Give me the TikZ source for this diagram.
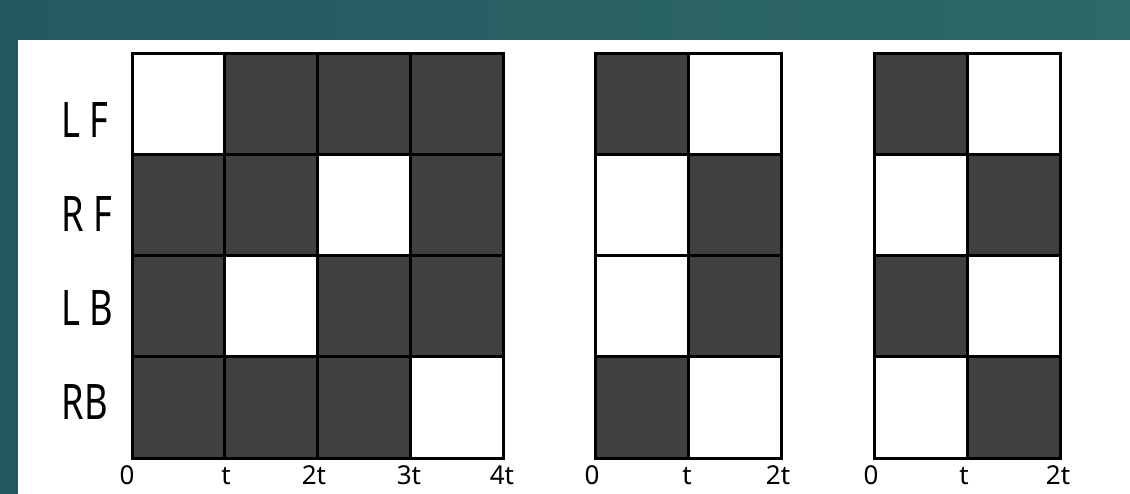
\documentclass[tikz,border=0pt]{standalone}
\usepackage{fontspec}
\setsansfont{Noto Sans}
\usepackage{graphicx}
\usepackage{tikz}
\definecolor{tealL}{HTML}{235961}
\definecolor{tealR}{HTML}{2E6868}
\definecolor{cellgray}{HTML}{404040}
\newcommand\rowfont{\fontsize{24.5}{28}\selectfont}
\newcommand\tickfont{\fontsize{13}{15}\selectfont}

\begin{document}
\begin{tikzpicture}[x=.5pt,y=-.5pt,line width=1.5pt,font=\sffamily]
\useasboundingbox (0,0) rectangle (1130,493);
\fill[left color=tealL,right color=tealR] (-5,-5) rectangle (1135,498);
\fill[white] (18,40) rectangle (1135,498);
% four legs over 4t
\begin{scope}[shift={(132,53)}]
\foreach \i/\j in {1/0,2/0,3/0,0/1,1/1,3/1,0/2,2/2,3/2,0/3,1/3,2/3}{\fill[cellgray] (\i*92.75,\j*101.25) rectangle ++(92.75,101.25);}
\draw (0,0) rectangle (371,405);
\foreach \x in {92.75,185.5,278.25}{\draw (\x,0)--(\x,405);}
\foreach \y in {101.25,202.5,303.75}{\draw (0,\y)--(371,\y);}
\end{scope}
% trot
\begin{scope}[shift={(595,53)}]
\foreach \i/\j in {0/0,1/1,1/2,0/3}{\fill[cellgray] (\i*93,\j*101.25) rectangle ++(93,101.25);}
\draw (0,0) rectangle (186,405);
\draw (93,0)--(93,405);
\foreach \y in {101.25,202.5,303.75}{\draw (0,\y)--(186,\y);}
\end{scope}
% pace
\begin{scope}[shift={(874,53)}]
\foreach \i/\j in {0/0,1/1,0/2,1/3}{\fill[cellgray] (\i*93,\j*101.25) rectangle ++(93,101.25);}
\draw (0,0) rectangle (186,405);
\draw (93,0)--(93,405);
\foreach \y in {101.25,202.5,303.75}{\draw (0,\y)--(186,\y);}
\end{scope}
\node[anchor=base west,inner sep=0pt] (lf) at (60,137) {\rowfont\scalebox{.74}[1]{L F}};
\node[anchor=base west,inner sep=0pt] (rf) at (60,231) {\rowfont\scalebox{.74}[1]{R F}};
\node[anchor=base west,inner sep=0pt] (lb) at (60,325) {\rowfont\scalebox{.74}[1]{L B}};
\node[anchor=base west,inner sep=0pt] (rb) at (60,419) {\rowfont\scalebox{.74}[1]{RB}};
\foreach \x/\t [count=\n] in {127/0,226/t,314/2t,409/3t,502/4t}{\node[anchor=base,inner sep=0pt] (a\n) at (\x,484) {\tickfont\t};}
\foreach \x/\t [count=\n] in {592/0,687/t,778/2t}{\node[anchor=base,inner sep=0pt] (b\n) at (\x,484) {\tickfont\t};}
\foreach \x/\t [count=\n] in {871/0,964/t,1058/2t}{\node[anchor=base,inner sep=0pt] (c\n) at (\x,484) {\tickfont\t};}
\end{tikzpicture}
\end{document}
